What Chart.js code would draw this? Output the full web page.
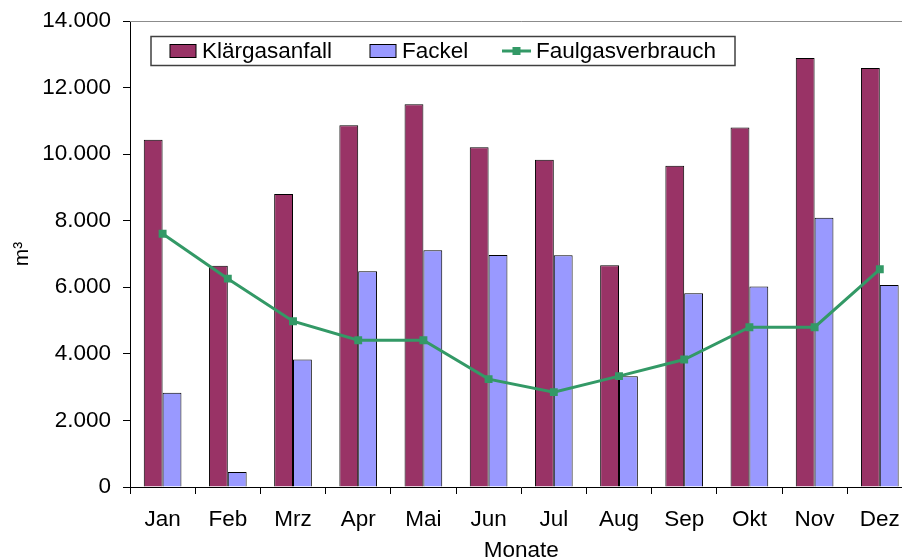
<!DOCTYPE html>
<html>
<head>
<meta charset="utf-8">
<script src="https://cdn.jsdelivr.net/npm/chart.js@4"></script>
<style>
  html, body { margin: 0; padding: 0; overflow: hidden; background: #fff; }
  canvas { display: block; }
</style>
</head>
<body>
<canvas id="grafico" width="918" height="570"></canvas>
<script>
const monate = ["Jan","Feb","Mrz","Apr","Mai","Jun","Jul","Aug","Sep","Okt","Nov","Dez"];
const klaergasanfall = [10430, 6650, 8800, 10870, 11500, 10210, 9830, 6660, 9650, 10800, 12890, 12590];
const fackel = [2830, 450, 3830, 6480, 7110, 6970, 6960, 3330, 5820, 6020, 8090, 6070];
const faulgasverbrauch = [7610, 6260, 4980, 4410, 4410, 3240, 2850, 3330, 3830, 4800, 4800, 6540];

const schrift = "Arial, 'Liberation Sans', sans-serif";

function tausender(v) {
  return String(v).replace(/\B(?=(\d{3})+(?!\d))/g, ".");
}

// Legende im Diagramm, wie bei Excel
const legendeInnen = {
  id: "legendeInnen",
  afterDraw(chart) {
    const ctx = chart.ctx;
    const a = chart.chartArea;
    const x0 = a.left + 21, y0 = a.top + 15.5, w = 584, h = 29;
    ctx.save();
    ctx.fillStyle = "#fff";
    ctx.fillRect(x0, y0, w, h);
    ctx.strokeStyle = "#404040";
    ctx.lineWidth = 1.5;
    ctx.strokeRect(x0, y0, w, h);

    const my = y0 + h / 2;
    ctx.font = "22.5px " + schrift;
    ctx.textBaseline = "middle";
    ctx.fillStyle = "#000";

    const ds = chart.data.datasets;
    // Klärgasanfall
    ctx.fillStyle = ds[0].backgroundColor;
    ctx.fillRect(x0 + 19, my - 6.5, 26, 13);
    ctx.strokeStyle = "#000";
    ctx.lineWidth = 1;
    ctx.strokeRect(x0 + 19, my - 6.5, 26, 13);
    ctx.fillStyle = "#000";
    ctx.fillText(ds[0].label, x0 + 51, my + 1);

    // Fackel
    ctx.fillStyle = ds[1].backgroundColor;
    ctx.fillRect(x0 + 219, my - 6.5, 26, 13);
    ctx.strokeRect(x0 + 219, my - 6.5, 26, 13);
    ctx.fillStyle = "#000";
    ctx.fillText(ds[1].label, x0 + 251, my + 1);

    // Faulgasverbrauch
    ctx.strokeStyle = ds[2].borderColor;
    ctx.lineWidth = 3;
    ctx.beginPath();
    ctx.moveTo(x0 + 351, my);
    ctx.lineTo(x0 + 380, my);
    ctx.stroke();
    ctx.fillStyle = ds[2].borderColor;
    ctx.fillRect(x0 + 361.5, my - 4, 8, 8);
    ctx.fillStyle = "#000";
    ctx.fillText(ds[2].label, x0 + 385, my + 1);
    ctx.restore();
  }
};

// graue Linie oben am Zeichnungsbereich
const rahmenOben = {
  id: "rahmenOben",
  beforeDatasetsDraw(chart) {
    const ctx = chart.ctx;
    const a = chart.chartArea;
    ctx.save();
    ctx.strokeStyle = "#8c8c8c";
    ctx.lineWidth = 1;
    ctx.beginPath();
    ctx.moveTo(a.left, a.top + 0.5);
    ctx.lineTo(a.right, a.top + 0.5);
    ctx.stroke();
    ctx.restore();
  }
};

new Chart(document.getElementById("grafico"), {
  data: {
    labels: monate,
    datasets: [
      {
        type: "bar",
        label: "Klärgasanfall",
        data: klaergasanfall,
        backgroundColor: "#993366",
        borderColor: "#000",
        borderWidth: 1,
        order: 1
      },
      {
        type: "bar",
        label: "Fackel",
        data: fackel,
        backgroundColor: "#9999ff",
        borderColor: "#000",
        borderWidth: 1,
        order: 1
      },
      {
        type: "line",
        label: "Faulgasverbrauch",
        data: faulgasverbrauch,
        borderColor: "#339966",
        backgroundColor: "#339966",
        borderWidth: 3,
        tension: 0,
        pointStyle: "rect",
        pointRadius: 5.6,
        pointBorderWidth: 0,
        order: 0
      }
    ]
  },
  options: {
    responsive: false,
    animation: false,
    devicePixelRatio: 1,
    layout: { padding: { top: 21, right: 5.5, left: 0, bottom: 0 } },
    datasets: { bar: { categoryPercentage: 0.578, barPercentage: 1 } },
    plugins: {
      legend: { display: false },
      tooltip: { enabled: false }
    },
    scales: {
      x: {
        afterFit: s => { s.height = 83; s.paddingLeft = 0; s.paddingRight = 0; },
        grid: { display: true, drawOnChartArea: false, offset: true, tickLength: 7, color: "#000" },
        border: { display: true, color: "#000", width: 1 },
        ticks: { color: "#000", font: { family: schrift, size: 22.5 }, padding: 12, maxRotation: 0 },
        title: {
          display: true,
          text: "Monate",
          color: "#000",
          font: { family: schrift, size: 22.5 },
          padding: { bottom: 6 }
        }
      },
      y: {
        min: 0,
        max: 14000,
        afterFit: s => { s.width = 130; s.paddingTop = 0; s.paddingBottom = 0; },
        grid: { display: true, drawOnChartArea: false, tickLength: 7, color: "#000" },
        border: { display: true, color: "#000", width: 1 },
        ticks: {
          stepSize: 2000,
          color: "#000",
          font: { family: schrift, size: 22.5 },
          padding: 12,
          callback: v => tausender(v)
        },
        title: {
          display: true,
          text: "m³",
          color: "#000",
          font: { family: schrift, size: 21 },
          padding: { top: 10 }
        }
      }
    }
  },
  plugins: [rahmenOben, legendeInnen]
});
</script>
</body>
</html>
